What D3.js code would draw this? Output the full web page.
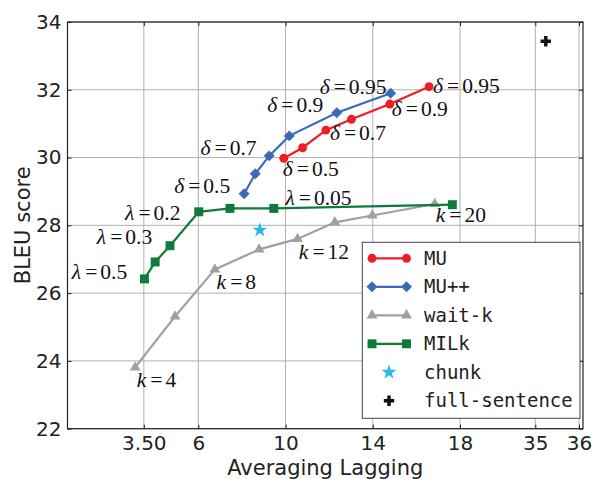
<!DOCTYPE html>
<html><head><meta charset="utf-8">
<script src="https://cdn.jsdelivr.net/npm/d3@7"></script>
<style>body{margin:0;background:#fff}svg{display:block}</style>
</head><body>
<svg id="c" width="593" height="479"></svg>
<script>
// ---- data ----
const xTicks = [3.5, 6, 10, 14, 18, 35, 36];
const xTickLabels = ["3.50", "6", "10", "14", "18", "35", "36"];
const yTicks = [22, 24, 26, 28, 30, 32, 34];

const muAL   = [9.92, 10.78, 11.85, 13.02, 14.78, 16.58];
const muBLEU = [29.98, 30.29, 30.81, 31.13, 31.58, 32.09];
const muLabels = ["0.5", "0.7", "0.9", "0.95"];

const mupAL   = [8.10, 8.61, 9.25, 10.17, 12.35, 14.82];
const mupBLEU = [28.93, 29.52, 30.05, 30.64, 31.32, 31.90];
const mupLabels = ["0.5", "0.7", "0.9", "0.95"];

const waitkAL   = [3.10, 4.93, 6.76, 8.79, 10.55, 12.26, 13.98, 16.84];
const waitkBLEU = [23.81, 25.31, 26.70, 27.29, 27.60, 28.09, 28.29, 28.63];
const waitkLabels = ["4", "8", "12", "20"];

const milkAL   = [3.53, 4.02, 4.70, 6.02, 7.45, 9.46, 17.65];
const milkBLEU = [26.42, 26.92, 27.40, 28.40, 28.50, 28.50, 28.61];
const milkLabels = ["0.5", "0.3", "0.2", "0.05"];

const chunkAL = [8.82], chunkBLEU = [27.86];
const fullAL = [35.24], fullBLEU = [33.43];

const legendNames = ["MU", "MU++", "wait-k", "MILk", "chunk", "full-sentence"];

// ---- layout ----
const L = 67.5, R = 583, T = 22, B = 428.7;
const svg = d3.select("#c");
const x = d3.scaleLinear().domain([0, 18, 35, 36.1]).range([L, 460, 535.3, 583.4]);
const y = d3.scaleLinear().domain([22, 34]).range([B, T]);

const RED = "#ee1d25", BLUE = "#3b6bb5", GRAY = "#a0a0a0", GREEN = "#0e7a3b", CYAN = "#2ab7ef";

// diamond = square rotated 45deg (matplotlib 'D')
const diamond = {draw(ctx, size) { const r = Math.sqrt(size / 2); ctx.moveTo(0, -r); ctx.lineTo(r, 0); ctx.lineTo(0, r); ctx.lineTo(-r, 0); ctx.closePath(); }};

// grid
const grid = svg.append("g");
grid.selectAll(".gx").data(xTicks).join("line")
  .attr("x1", d => x(d)).attr("x2", d => x(d)).attr("y1", T).attr("y2", B)
  .attr("stroke", "#b0b0b0").attr("stroke-width", 1);
grid.selectAll(".gy").data(yTicks).join("line")
  .attr("y1", d => y(d)).attr("y2", d => y(d)).attr("x1", L).attr("x2", R)
  .attr("stroke", "#b0b0b0").attr("stroke-width", 1);

// axes (ticks inward)
const fmtX = d => xTickLabels[xTicks.indexOf(d)];
const axB = svg.append("g").attr("transform", `translate(0,${B})`)
  .call(d3.axisBottom(x).tickValues(xTicks).tickFormat(fmtX).tickSizeInner(-4).tickSizeOuter(0).tickPadding(7));
const axT = svg.append("g").attr("transform", `translate(0,${T})`)
  .call(d3.axisTop(x).tickValues(xTicks).tickFormat("").tickSizeInner(-4).tickSizeOuter(0));
const axLft = svg.append("g").attr("transform", `translate(${L},0)`)
  .call(d3.axisLeft(y).tickValues(yTicks).tickFormat(d3.format("d")).tickSizeInner(-4).tickSizeOuter(0).tickPadding(6));
const axRt = svg.append("g").attr("transform", `translate(${R},0)`)
  .call(d3.axisRight(y).tickValues(yTicks).tickFormat("").tickSizeInner(-4).tickSizeOuter(0));
[axB, axT, axLft, axRt].forEach(a => {
  a.select(".domain").remove();
  a.selectAll(".tick line").attr("stroke", "#222").attr("stroke-width", 1);
  a.selectAll("text").attr("font-family", "DejaVu Sans").attr("font-size", 20).attr("fill", "#222");
});
axB.selectAll("text").attr("dy", "0.71em");
svg.append("rect").attr("x", L).attr("y", T).attr("width", R - L).attr("height", B - T)
  .attr("fill", "none").attr("stroke", "#222").attr("stroke-width", 1.2);

// axis titles
svg.append("text").attr("x", (L + R) / 2).attr("y", 475).attr("text-anchor", "middle")
  .attr("font-family", "DejaVu Sans").attr("font-size", 21).attr("fill", "#222").text("Averaging Lagging");
svg.append("text").attr("transform", `translate(30,${(T + B) / 2}) rotate(-90)`).attr("text-anchor", "middle")
  .attr("font-family", "DejaVu Sans").attr("font-size", 21).attr("fill", "#222").text("BLEU score");

// series
const series = [
  {name: "MU", xs: muAL, ys: muBLEU, color: RED, sym: d3.symbolCircle, size: 62},
  {name: "MU++", xs: mupAL, ys: mupBLEU, color: BLUE, sym: diamond, size: 60},
  {name: "wait-k", xs: waitkAL, ys: waitkBLEU, color: GRAY, sym: d3.symbolTriangle, size: 50},
  {name: "MILk", xs: milkAL, ys: milkBLEU, color: GREEN, sym: d3.symbolSquare, size: 80},
];
const line = d3.line().x(d => x(d[0])).y(d => y(d[1]));
series.forEach(s => {
  const pts = s.xs.map((v, i) => [v, s.ys[i]]);
  const g = svg.append("g");
  g.append("path").attr("d", line(pts)).attr("fill", "none").attr("stroke", s.color).attr("stroke-width", 2.2);
  g.selectAll("path.m").data(pts).join("path").attr("class", "m")
    .attr("transform", d => `translate(${x(d[0])},${y(d[1])})`)
    .attr("d", d3.symbol().type(s.sym).size(s.size)).attr("fill", s.color);
});
// chunk star
svg.append("path").attr("transform", `translate(${x(chunkAL[0])},${y(chunkBLEU[0])})`)
  .attr("d", d3.symbol().type(d3.symbolStar).size(70)).attr("fill", CYAN);
// full-sentence plus
svg.append("path").attr("transform", `translate(${x(fullAL[0])},${y(fullBLEU[0])})`)
  .attr("d", d3.symbol().type(d3.symbolCross).size(60)).attr("fill", "#111");

// annotations
function mathLabel(px, py, sym, val) {
  const t = svg.append("text").attr("x", px).attr("y", py)
    .attr("font-family", "Liberation Serif").attr("font-size", 21.5).attr("fill", "#111");
  t.append("tspan").attr("font-style", "italic").text(sym);
  t.append("tspan").attr("dx", 4).text("=");
  t.append("tspan").attr("dx", 3).text(val);
}
const ann = [
  {xs: mupAL, ys: mupBLEU, sym: "δ", labels: mupLabels, idx: [0, 2, 3, 5],
   off: [[-70, -1], [-68.6, -1], [-22, -24], [-71, 1]]},
  {xs: muAL, ys: muBLEU, sym: "δ", labels: muLabels, idx: [0, 2, 4, 5],
   off: [[-1, 17.4], [4, 10], [2, 12], [4, 6]]},
  {xs: milkAL, ys: milkBLEU, sym: "λ", labels: milkLabels, idx: [0, 1, 3, 5],
   off: [[-72.6, 0], [-58.3, -17.7], [-73.7, 8], [11.7, -3.7]]},
  {xs: waitkAL, ys: waitkBLEU, sym: "k", labels: waitkLabels, idx: [0, 2, 4, 7],
   off: [[1.7, 19.7], [1.7, 19.7], [1.3, 20], [1, 17.7]]},
];
ann.forEach(a => a.idx.forEach((i, j) => {
  mathLabel(x(a.xs[i]) + a.off[j][0], y(a.ys[i]) + a.off[j][1], a.sym, a.labels[j]);
}));

// legend
const lg = svg.append("g");
lg.append("rect").attr("x", 362.3).attr("y", 242.3).attr("width", 217.7).attr("height", 176)
  .attr("fill", "#fff").attr("stroke", "#444").attr("stroke-width", 1);
const legendItems = [
  {color: RED, sym: d3.symbolCircle, size: 62, line: true},
  {color: BLUE, sym: diamond, size: 60, line: true},
  {color: GRAY, sym: d3.symbolTriangle, size: 50, line: true},
  {color: GREEN, sym: d3.symbolSquare, size: 80, line: true},
  {color: CYAN, sym: d3.symbolStar, size: 70, line: false},
  {color: "#111", sym: d3.symbolCross, size: 60, line: false},
];
legendItems.forEach((it, i) => {
  const cy = 258.3 + i * 28.5;
  if (it.line) {
    lg.append("line").attr("x1", 372).attr("x2", 406.5).attr("y1", cy).attr("y2", cy)
      .attr("stroke", it.color).attr("stroke-width", 2.2);
    [372, 406.5].forEach(cx => lg.append("path").attr("transform", `translate(${cx},${cy})`)
      .attr("d", d3.symbol().type(it.sym).size(it.size)).attr("fill", it.color));
  } else {
    lg.append("path").attr("transform", `translate(389,${cy})`)
      .attr("d", d3.symbol().type(it.sym).size(it.size)).attr("fill", it.color);
  }
  lg.append("text").attr("x", 424).attr("y", cy).attr("dy", "0.35em")
    .attr("font-family", "DejaVu Sans Mono").attr("font-size", 19).attr("fill", "#222")
    .text(legendNames[i]);
});
</script>
</body></html>
